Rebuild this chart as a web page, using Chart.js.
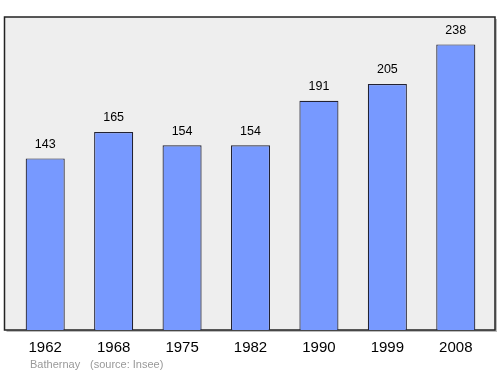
<!DOCTYPE html>
<html><head><meta charset="utf-8">
<script src="https://cdn.jsdelivr.net/npm/chart.js@4/dist/chart.umd.min.js"></script>
<style>html,body{margin:0;padding:0;background:#fff}#wrap{width:500px;height:374px}</style>
</head><body><div id="wrap"><canvas id="c" width="500" height="374"></canvas></div>
<script>
const years = ["1962","1968","1975","1982","1990","1999","2008"];
const population = [143,165,154,154,191,205,238];
const footerName = "Bathernay";
const footerSource = "(source: Insee)";

const framePlugin = {
  id:'frame',
  beforeDraw(chart){
    const {ctx, chartArea:a} = chart;
    const l = a.left-6.5, r = a.right+5, t = a.top-1, b = a.bottom;
    ctx.save();
    ctx.fillStyle='#bbbbbb';
    ctx.fillRect(l+2, t+2, r-l, b-t);
    ctx.fillStyle='#eeeeee';
    ctx.fillRect(l, t, r-l, b-t);
    ctx.strokeStyle='#222222';
    ctx.lineWidth=1.5;
    ctx.strokeRect(l, t, r-l, b-t);
    ctx.restore();
  },
  afterDatasetsDraw(chart){
    const {ctx, chartArea:a} = chart;
    const meta = chart.getDatasetMeta(0);
    const xs = chart.scales.x;
    ctx.save();
    ctx.font='12.5px "Liberation Sans", Arial, sans-serif';
    ctx.fillStyle='#000';
    ctx.textAlign='center';
    ctx.textBaseline='middle';
    meta.data.forEach((bar,i)=>{
      ctx.fillText(String(population[i]), bar.x, bar.y-14);
    });
    ctx.font='15px "Liberation Sans", Arial, sans-serif';
    years.forEach((y,i)=>{
      ctx.fillText(y, xs.getPixelForValue(i), a.bottom+17.5);
    });
    ctx.font='11px "Liberation Sans", Arial, sans-serif';
    ctx.fillStyle='#999999';
    ctx.textAlign='left';
    ctx.fillText(footerName, 30, 365);
    ctx.fillText(footerSource, 90, 365);
    ctx.restore();
  }
};

new Chart(document.getElementById('c'), {
  type:'bar',
  data:{labels:years, datasets:[{data:population, backgroundColor:'#7799ff', borderColor:'#222233', borderWidth:1.2, borderSkipped:'bottom', barPercentage:0.571, categoryPercentage:1}]},
  options:{
    responsive:false, animation:false, devicePixelRatio:1,
    layout:{padding:{left:11, right:10, top:18, bottom:44}},
    plugins:{legend:{display:false}, tooltip:{enabled:false}},
    scales:{
      x:{display:false},
      y:{display:false, min:0, max:260}
    }
  },
  plugins:[framePlugin]
});
</script></body></html>
